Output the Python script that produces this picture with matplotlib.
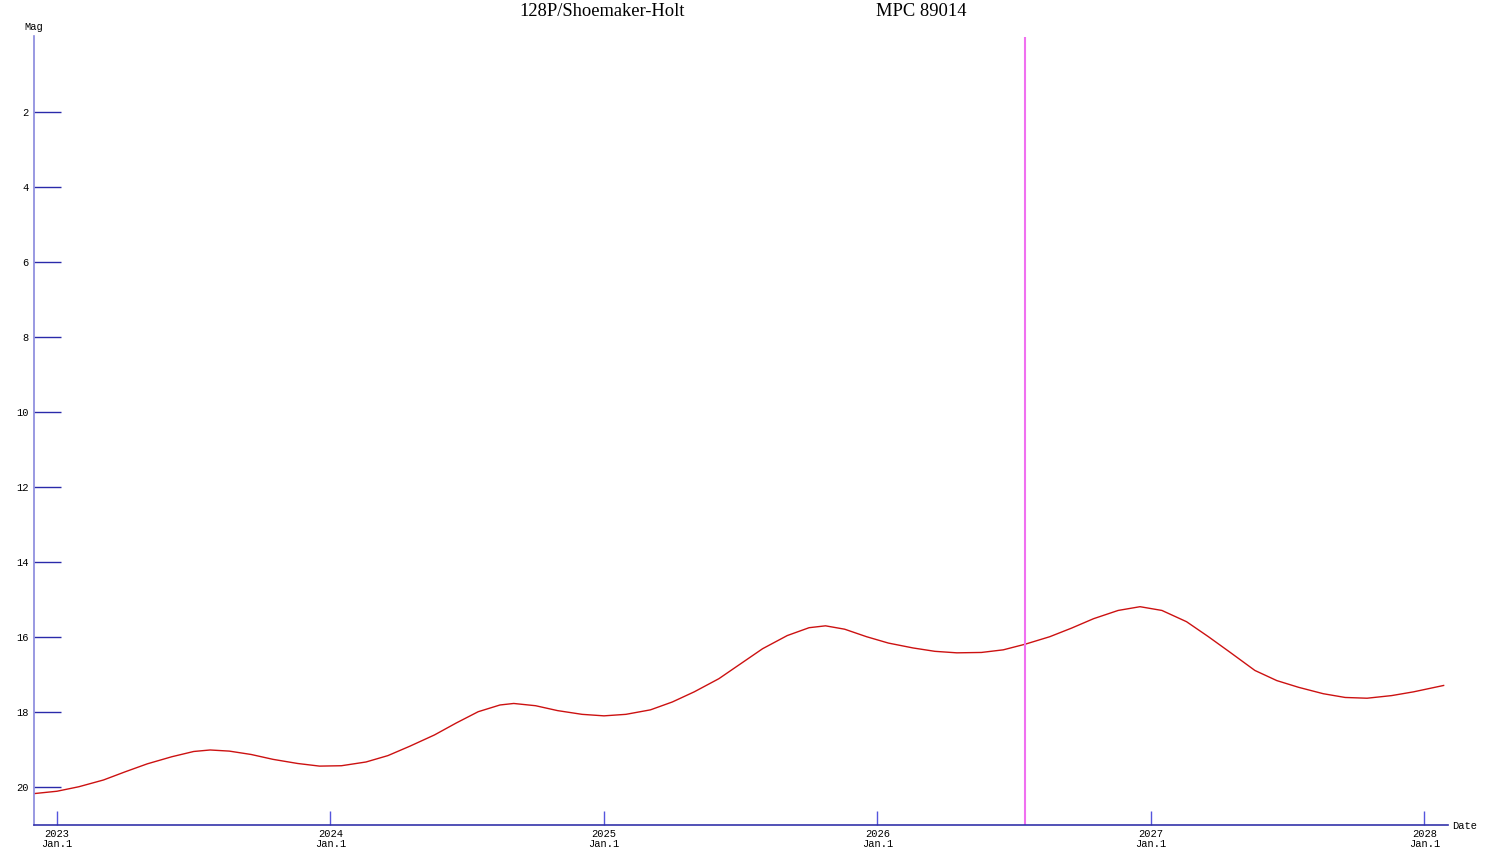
import numpy as np
import matplotlib
matplotlib.use("Agg")
import matplotlib.pyplot as plt

# comet magnitude curve, dates as decimal years
years = [2022.92, 2023.00, 2023.08, 2023.17, 2023.25, 2023.33, 2023.42, 2023.50,
         2023.56, 2023.63, 2023.71, 2023.79, 2023.88, 2023.96, 2024.04, 2024.13,
         2024.21, 2024.29, 2024.38, 2024.46, 2024.54, 2024.62, 2024.67, 2024.75,
         2024.83, 2024.92, 2025.00, 2025.08, 2025.17, 2025.25, 2025.33, 2025.42,
         2025.50, 2025.58, 2025.67, 2025.75, 2025.81, 2025.88, 2025.96, 2026.04,
         2026.13, 2026.21, 2026.29, 2026.38, 2026.46, 2026.54, 2026.63, 2026.71,
         2026.79, 2026.88, 2026.96, 2027.04, 2027.13, 2027.21, 2027.29, 2027.38,
         2027.46, 2027.54, 2027.63, 2027.71, 2027.79, 2027.88, 2027.96, 2028.07]
mags = [20.16, 20.10, 19.98, 19.80, 19.58, 19.37, 19.18, 19.04,
        19.00, 19.03, 19.12, 19.25, 19.36, 19.43, 19.42, 19.32,
        19.15, 18.90, 18.60, 18.28, 17.98, 17.80, 17.76, 17.82,
        17.95, 18.05, 18.09, 18.05, 17.93, 17.72, 17.45, 17.10,
        16.70, 16.30, 15.95, 15.74, 15.69, 15.78, 15.98, 16.15,
        16.28, 16.37, 16.41, 16.40, 16.33, 16.18, 15.98, 15.75,
        15.50, 15.28, 15.18, 15.28, 15.58, 15.98, 16.40, 16.88,
        17.15, 17.33, 17.50, 17.60, 17.62, 17.55, 17.45, 17.28]

today = 2026.54
year_ticks = [2023, 2024, 2025, 2026, 2027, 2028]
mag_ticks = [2, 4, 6, 8, 10, 12, 14, 16, 18, 20]

mono = "Liberation Mono"
serif = "Liberation Serif"

fig = plt.figure(figsize=(15, 8.57), dpi=100)
ax = fig.add_axes([34/1500, 1 - 825/857, (1448 - 34)/1500, (825 - 37.3)/857])

ax.plot(years, mags, color="#cc1111", lw=1.0)
ax.axvline(today, color="#f070f0", lw=1.5)

ax.set_xlim(2022.916, 2028.086)
ax.set_ylim(21, 0)

for s in ["top", "right"]:
    ax.spines[s].set_visible(False)
ax.spines["left"].set_color("#8888dd")
ax.spines["bottom"].set_color("#3333aa")
ax.spines["left"].set_linewidth(1.2)
ax.spines["bottom"].set_linewidth(1.2)
ax.spines["left"].set_bounds(21, -0.03)

ax.set_yticks(mag_ticks)
ax.set_yticklabels([str(m) for m in mag_ticks], fontfamily=mono, fontsize=7.5)
ax.tick_params(axis="y", direction="in", length=19.5, width=1, color="#2a2aaa", pad=4)

ax.set_xticks(year_ticks)
ax.set_xticklabels([f"{y}\nJan.1" for y in year_ticks], fontfamily=mono, fontsize=7.5,
                   linespacing=1.0)
ax.tick_params(axis="x", direction="in", length=10, width=1, color="#5555dd", pad=3)

fig.text(24/1500, 1 - 27/857, "Mag", fontfamily=mono, fontsize=7.5, va="center", ha="left")
fig.text(1452/1500, 1 - 826/857, "Date", fontfamily=mono, fontsize=7.5, va="center", ha="left")
fig.text(602/1500, 1 - 11/857, "128P/Shoemaker-Holt", fontfamily=serif, fontsize=13.3,
         ha="center", va="center")
fig.text(921/1500, 1 - 11/857, "MPC 89014", fontfamily=serif, fontsize=13.3,
         ha="center", va="center")

fig.savefig("out.png", dpi=100)
